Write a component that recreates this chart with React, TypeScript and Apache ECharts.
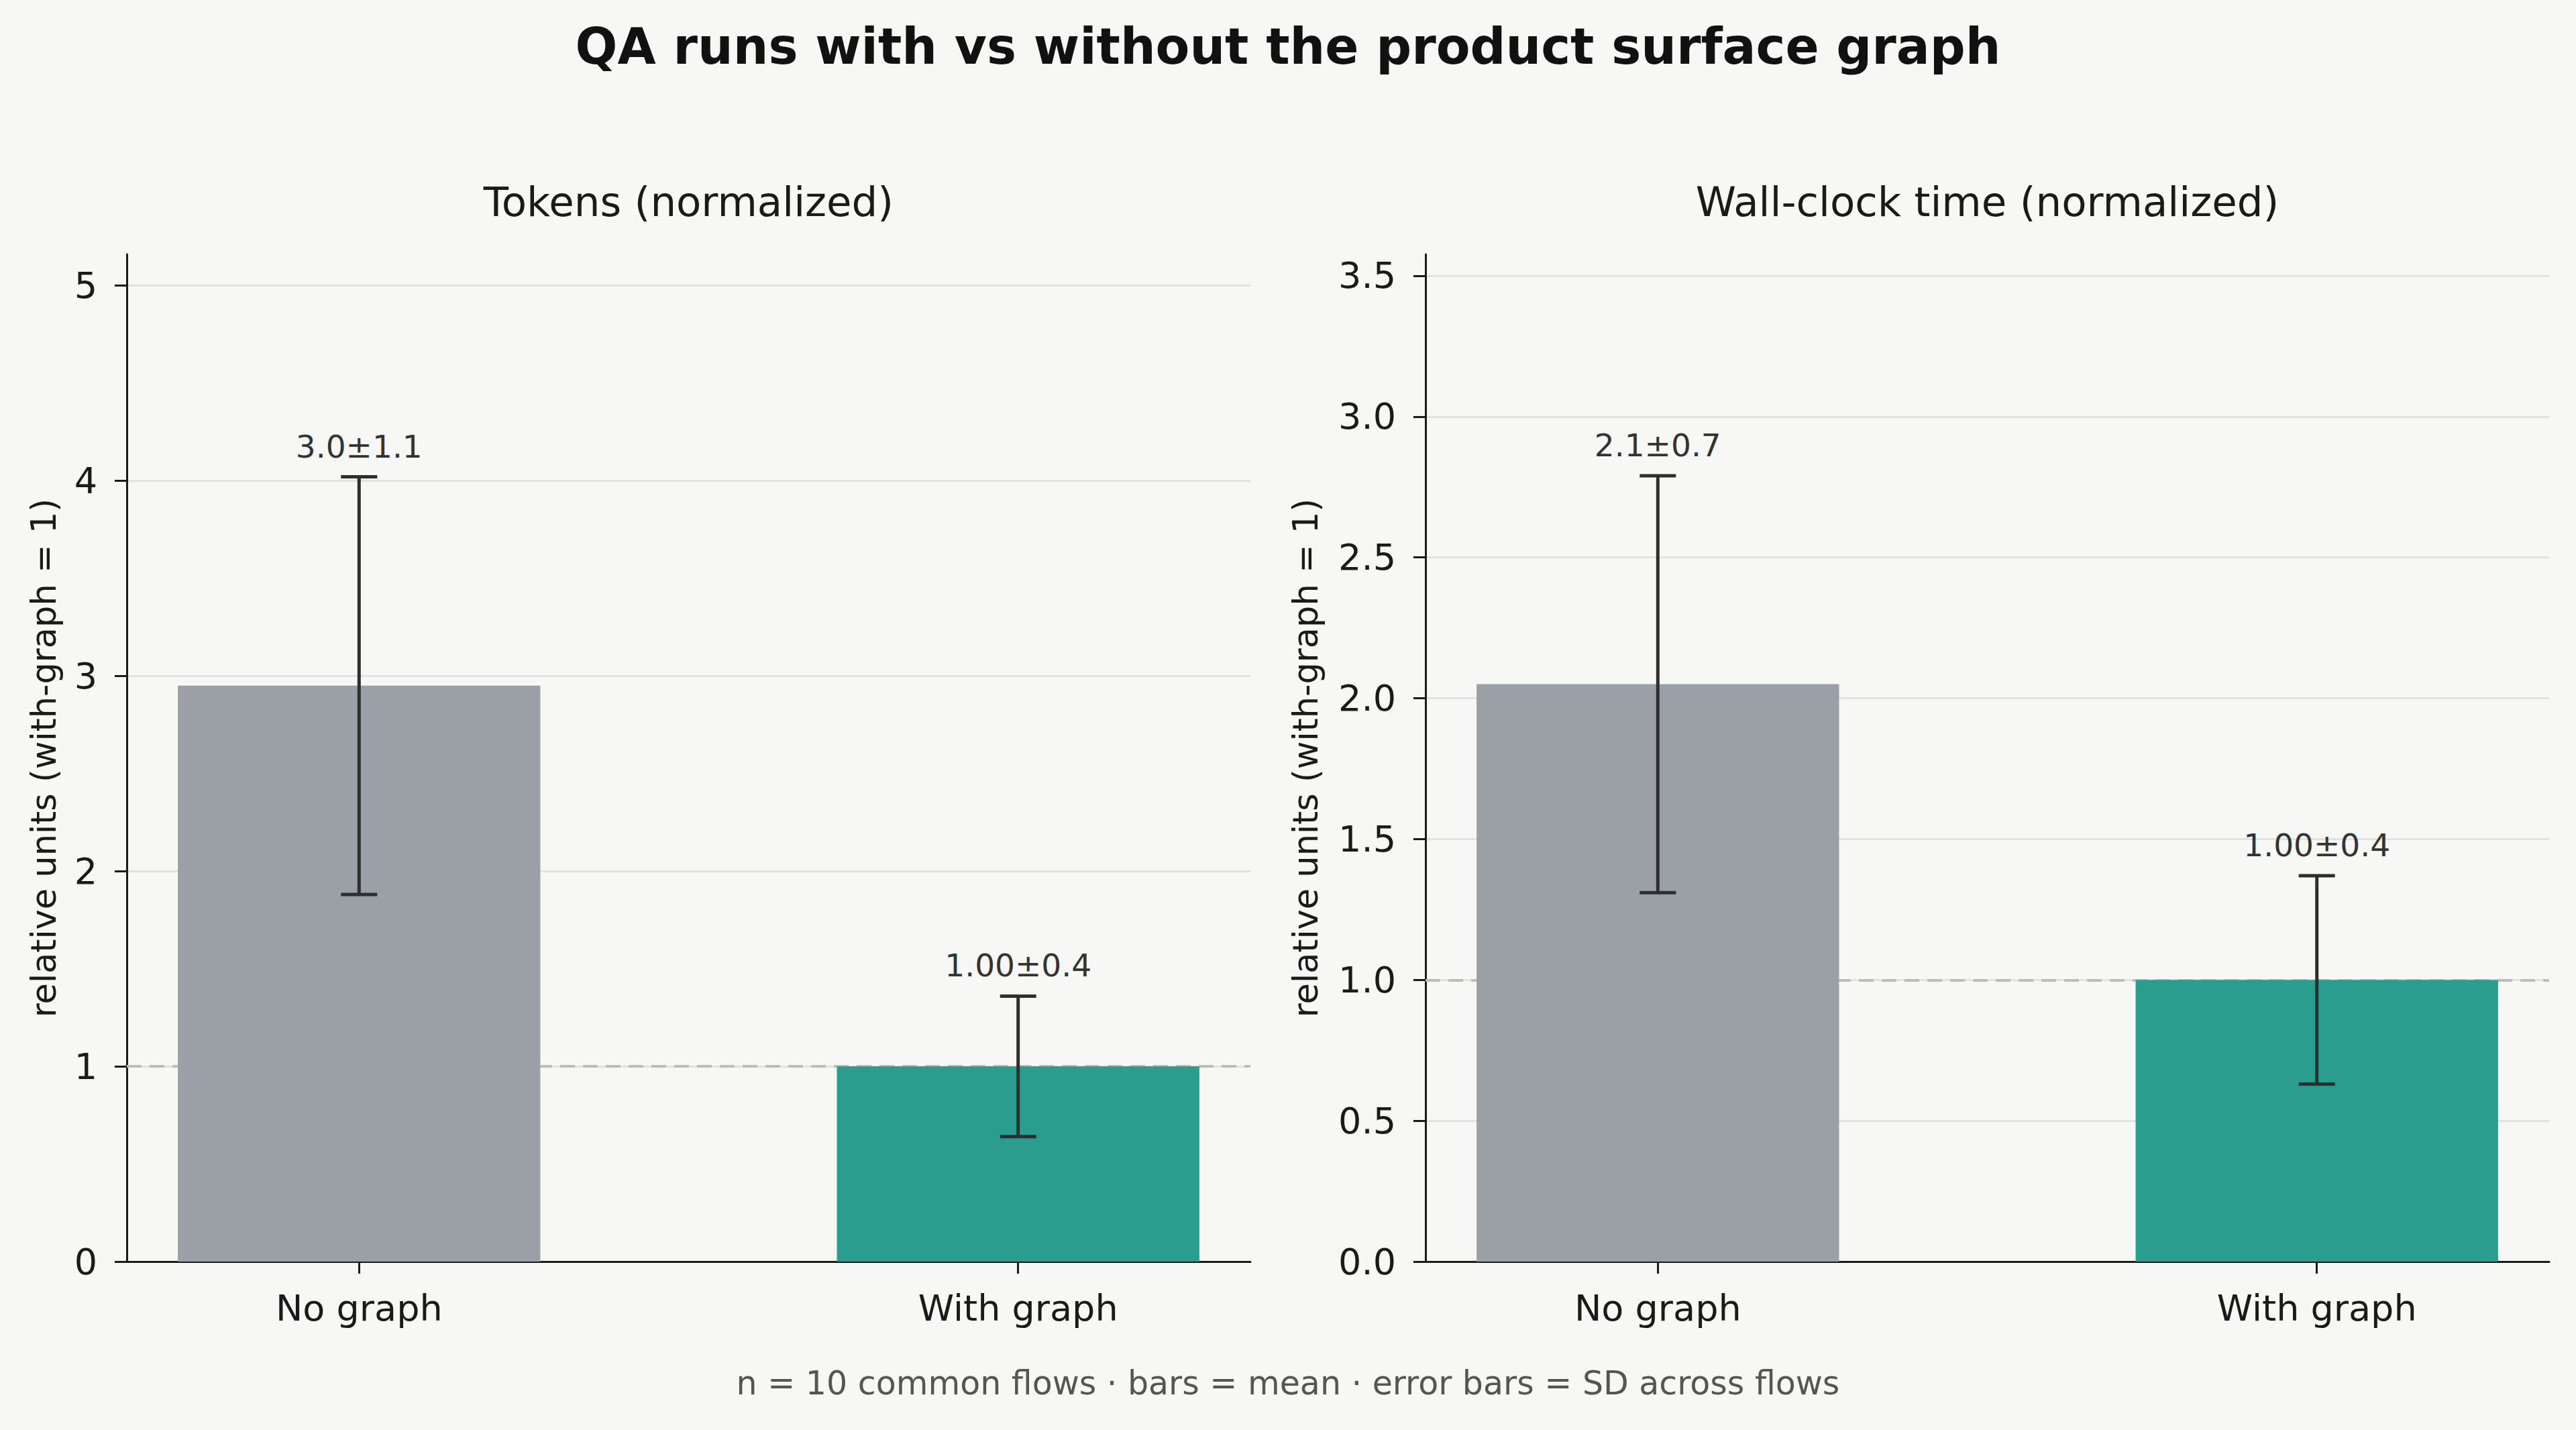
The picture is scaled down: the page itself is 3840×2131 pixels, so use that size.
import { useEffect, useRef } from 'react'
import * as echarts from 'echarts'

// data
const categories = ['No graph', 'With graph']
const tokenMeans = [2.95, 1.0]
const tokenSds = [1.07, 0.36]
const tokenLabels = ['3.0±1.1', '1.00±0.4']
const timeMeans = [2.05, 1.0]
const timeSds = [0.74, 0.37]
const timeLabels = ['2.1±0.7', '1.00±0.4']
const tokenTicks = [0, 1, 2, 3, 4, 5]
const timeTicks = [0, 0.5, 1, 1.5, 2, 2.5, 3, 3.5]
const barColors = ['#9b9fa6', '#2a9d8f']

const W = 3840
const H = 2131
const FONT = 'DejaVu Sans'
const X_MIN = -0.3525
const X_MAX = 1.3525
const GRID_W = 1675
const GRID_TOP = 379
const GRID_H = 1501
const BAR_W = (0.55 * GRID_W) / (X_MAX - X_MIN)
const INK = '#1a1a1a'

const panels = [
  { left: 189, title: 'Tokens (normalized)', means: tokenMeans, sds: tokenSds, labels: tokenLabels, ticks: tokenTicks, max: 5.16, interval: 1, digits: 0, nameGap: 98 },
  { left: 2125, title: 'Wall-clock time (normalized)', means: timeMeans, sds: timeSds, labels: timeLabels, ticks: timeTicks, max: 3.576, interval: 0.5, digits: 1, nameGap: 153 },
]

function buildOption() {
  const grid = panels.map((p) => ({ left: p.left, top: GRID_TOP, width: GRID_W, height: GRID_H, containLabel: false }))

  const xAxis = panels.map((p, i) => ({
    type: 'value',
    gridIndex: i,
    min: X_MIN,
    max: X_MAX,
    axisLine: { show: true, onZero: false, lineStyle: { color: INK, width: 3 } },
    axisTick: { show: true, customValues: [0, 1], length: 18, lineStyle: { color: INK, width: 3 } },
    axisLabel: {
      customValues: [0, 1],
      formatter: (v: number) => categories[Math.round(v)],
      margin: 42,
      fontSize: 54,
      fontFamily: FONT,
      color: INK,
    },
    splitLine: { show: false },
  }))

  const yAxis = panels.map((p, i) => ({
    type: 'value',
    gridIndex: i,
    min: 0,
    max: p.max,
    interval: p.interval,
    axisLine: { show: true, onZero: false, lineStyle: { color: INK, width: 3 } },
    axisTick: { show: true, customValues: p.ticks, length: 18, lineStyle: { color: INK, width: 3 } },
    axisLabel: {
      customValues: p.ticks,
      formatter: (v: number) => v.toFixed(p.digits),
      margin: 44,
      fontSize: 54,
      fontFamily: FONT,
      color: INK,
    },
    splitLine: { show: true, lineStyle: { color: '#e2e2e0', width: 3 } },
    name: 'relative units (with-graph = 1)',
    nameLocation: 'middle',
    nameRotate: 90,
    nameGap: p.nameGap,
    nameTextStyle: { fontSize: 51, fontFamily: FONT, color: INK },
  }))

  const series: any[] = []
  panels.forEach((p, i) => {
    series.push({
      type: 'bar',
      xAxisIndex: i,
      yAxisIndex: i,
      barWidth: BAR_W,
      z: 2,
      data: p.means.map((m, k) => ({ value: [k, m], itemStyle: { color: barColors[k] } })),
      markLine: {
        silent: true,
        symbol: 'none',
        z: 1,
        label: { show: false },
        lineStyle: { color: '#bdbdbd', type: [22, 12], width: 4 },
        data: [{ yAxis: 1 }],
      },
    })
    series.push({
      type: 'custom',
      xAxisIndex: i,
      yAxisIndex: i,
      z: 3,
      clip: false,
      encode: { x: 0, y: [1, 2] },
      data: p.means.map((m, k) => [k, m - p.sds[k], m + p.sds[k]]),
      renderItem: (params: any, api: any) => {
        const x = api.value(0)
        const top = api.coord([x, api.value(2)])
        const bot = api.coord([x, api.value(1)])
        const style = { stroke: '#2e2e2e', lineWidth: 5 }
        const cap = 27
        return {
          type: 'group',
          children: [
            { type: 'line', shape: { x1: top[0], y1: top[1], x2: bot[0], y2: bot[1] }, style },
            { type: 'line', shape: { x1: top[0] - cap, y1: top[1], x2: top[0] + cap, y2: top[1] }, style },
            { type: 'line', shape: { x1: bot[0] - cap, y1: bot[1], x2: bot[0] + cap, y2: bot[1] }, style },
            {
              type: 'text',
              x: top[0],
              y: top[1] - 22,
              style: {
                text: p.labels[params.dataIndex],
                fill: '#333333',
                fontSize: 47,
                fontFamily: FONT,
                align: 'center',
                verticalAlign: 'bottom',
              },
            },
          ],
        }
      },
    })
  })

  return {
    animation: false,
    backgroundColor: '#f7f7f5',
    title: [
      {
        text: 'QA runs with vs without the product surface graph',
        left: 'center',
        top: 32,
        padding: 0,
        textStyle: { fontSize: 74, fontWeight: 'bold', fontFamily: FONT, color: '#111111' },
      },
      ...panels.map((p) => ({
        text: p.title,
        left: p.left + GRID_W / 2,
        textAlign: 'center',
        top: 270,
        padding: 0,
        textStyle: { fontSize: 61, fontWeight: 'normal', fontFamily: FONT, color: INK },
      })),
      {
        text: 'n = 10 common flows · bars = mean · error bars = SD across flows',
        left: W / 2,
        textAlign: 'center',
        top: 2037,
        padding: 0,
        textStyle: { fontSize: 49, fontWeight: 'normal', fontFamily: FONT, color: '#555555' },
      },
    ],
    grid,
    xAxis,
    yAxis,
    series,
  }
}

export default function App() {
  const chartRef = useRef<HTMLDivElement>(null)

  useEffect(() => {
    if (!chartRef.current) return
    const chart = echarts.init(chartRef.current, null, { renderer: 'svg' })
    chart.setOption(buildOption())
    return () => {
      chart.dispose()
    }
  }, [])

  return (
    <div
      ref={chartRef}
      style={{ position: 'absolute', left: 0, top: 0, width: W, height: H, background: '#f7f7f5' }}
    />
  )
}
